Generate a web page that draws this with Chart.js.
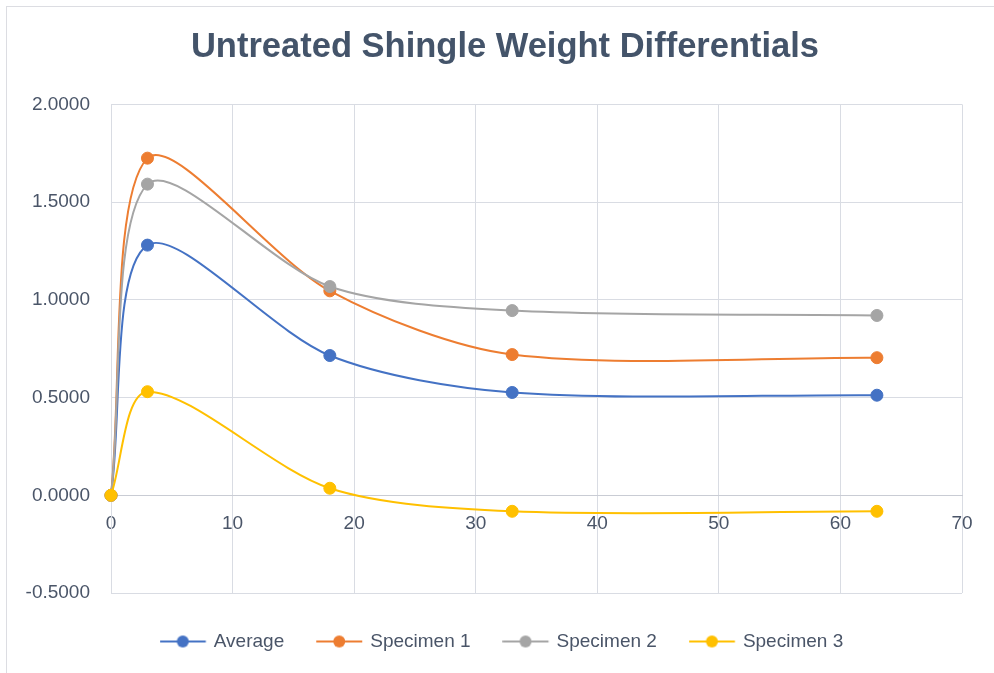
<!DOCTYPE html>
<html>
<head>
<meta charset="utf-8">
<script src="https://cdn.jsdelivr.net/npm/chart.js@4/dist/chart.umd.min.js"></script>
<style>
  html, body { margin: 0; padding: 0; background: #ffffff; }
  #wrap { position: relative; width: 994px; height: 673px; }
</style>
</head>
<body>
<div id="wrap"><canvas id="c" width="994" height="673"></canvas></div>
<script>
const chartTitle = "Untreated Shingle Weight Differentials";
const xValues = [0, 3, 18, 33, 63];
const seriesNames = ["Average", "Specimen 1", "Specimen 2", "Specimen 3"];
const averageValues = [0.0000, 1.2800, 0.7150, 0.5260, 0.5120];
const specimen1Values = [0.0000, 1.7250, 1.0460, 0.7200, 0.7040];
const specimen2Values = [0.0000, 1.5920, 1.0680, 0.9450, 0.9200];
const specimen3Values = [0.0000, 0.5300, 0.0360, -0.0820, -0.0820];
const seriesColors = ["#4472C4", "#ED7D31", "#A5A5A5", "#FFC000"];
const xTicks = [0, 10, 20, 30, 40, 50, 60, 70];
const yTicks = [-0.5, 0, 0.5, 1.0, 1.5, 2.0];

const allValues = [averageValues, specimen1Values, specimen2Values, specimen3Values];
const FONT = "'Liberation Sans', Arial, sans-serif";
const TEXT = "#4a5568";
const GRID = "#d9dce3";

function legendIcon(color) {
  const c = document.createElement('canvas');
  c.width = 52; c.height = 16;
  const g = c.getContext('2d');
  g.strokeStyle = color; g.lineWidth = 2;
  g.beginPath(); g.moveTo(0.25, 8); g.lineTo(46.25, 8); g.stroke();
  g.fillStyle = color;
  g.beginPath(); g.arc(23.25, 8, 6, 0, Math.PI * 2); g.fill();
  return c;
}

const datasets = seriesNames.map((name, i) => ({
  label: name,
  data: xValues.map((x, j) => ({ x: x, y: allValues[i][j] })),
  borderColor: seriesColors[i],
  backgroundColor: seriesColors[i],
  pointBackgroundColor: seriesColors[i],
  pointBorderColor: seriesColors[i],
  pointRadius: 6,
  pointBorderWidth: 1,
  borderWidth: 2,
  tension: 0.3,
  showLine: true,
  fill: false,
  clip: false,
  order: seriesNames.length - i
}));

const frame = {
  id: 'frame',
  beforeDraw(chart) {
    const ctx = chart.ctx;
    ctx.save();
    ctx.fillStyle = '#ffffff';
    ctx.fillRect(0, 0, chart.width, chart.height);
    ctx.strokeStyle = '#dcdde2';
    ctx.lineWidth = 1;
    ctx.strokeRect(6.5, 6.5, chart.width + 10, chart.height + 10);
    ctx.restore();
  }
};

new Chart(document.getElementById('c'), {
  type: 'scatter',
  data: { datasets },
  plugins: [frame],
  options: {
    responsive: false,
    animation: false,
    layout: { padding: { left: 16, right: 0, top: 0, bottom: 12 } },
    plugins: {
      title: {
        display: true,
        text: chartTitle,
        color: '#44546A',
        font: { family: FONT, size: 34.5, weight: 'bold' },
        padding: { top: 27, bottom: 36 }
      },
      legend: {
        position: 'bottom',
        labels: {
          color: TEXT,
          font: { family: FONT, size: 19 },
          usePointStyle: true,
          pointStyleWidth: 37.5,
          boxHeight: 16,
          padding: 39,
          generateLabels(chart) {
            return chart.data.datasets.map((ds, i) => ({
              text: ds.label,
              pointStyle: legendIcon(seriesColors[i]),
              fillStyle: seriesColors[i],
              strokeStyle: seriesColors[i],
              lineWidth: 0,
              hidden: false,
              datasetIndex: i,
              fontColor: TEXT
            }));
          }
        }
      },
      tooltip: { enabled: false }
    },
    scales: {
      x: {
        type: 'linear',
        position: { y: 0 },
        min: 0, max: 70,
        afterBuildTicks(scale) { scale.ticks = xTicks.map(v => ({ value: v })); },
        ticks: { color: TEXT, font: { family: FONT, size: 19 }, padding: 17, maxRotation: 0 },
        grid: { color: GRID, lineWidth: 1, drawTicks: false },
        border: { color: '#c9ccd4', width: 1 }
      },
      y: {
        type: 'linear',
        min: -0.5, max: 2.0,
        afterBuildTicks(scale) { scale.ticks = yTicks.map(v => ({ value: v })); },
        afterFit(scale) { scale.width = 95; },
        ticks: {
          color: TEXT, font: { family: FONT, size: 19 }, padding: 21,
          callback: (v) => Number(v).toFixed(4)
        },
        grid: { color: GRID, lineWidth: 1, drawTicks: false },
        border: { color: GRID, width: 1 }
      },
      yRight: {
        type: 'linear',
        position: 'right',
        min: 0, max: 1,
        ticks: { display: false },
        grid: { display: false, drawTicks: false },
        border: { display: false },
        afterFit(scale) { scale.width = 32; }
      }
    }
  }
});
</script>
</body>
</html>
